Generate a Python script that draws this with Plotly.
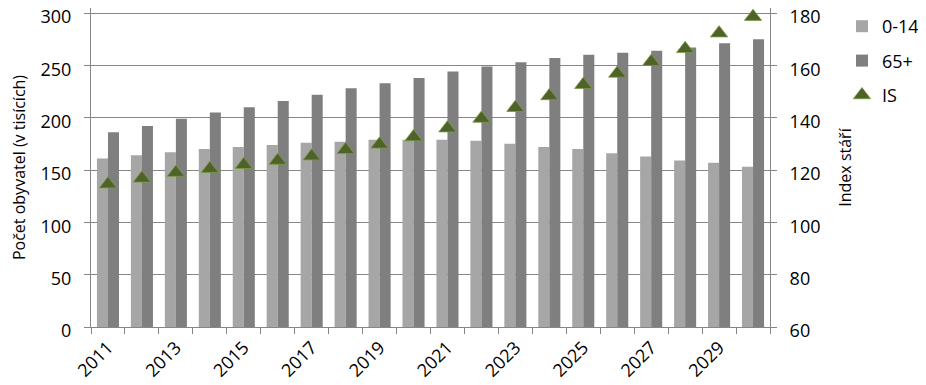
import plotly.graph_objects as go

years = [str(y) for y in range(2011, 2031)]
tick_labels = [y if (int(y) - 2011) % 2 == 0 else "" for y in years]
age_0_14 = [161, 164, 167, 170, 172, 174, 176, 177, 179, 179, 179, 178, 175, 172, 170, 166, 163, 159, 157, 153]
age_65 = [186, 192, 199, 205, 210, 216, 222, 228, 233, 238, 244, 249, 253, 257, 260, 262, 264, 267, 271, 275]
index_stari = [114.6, 116.8, 119.0, 120.5, 122.0, 123.6, 125.3, 127.7, 129.8, 132.6, 136.0, 139.7, 143.8, 148.3, 152.6, 156.9, 161.4, 166.3, 172.3, 178.6]
left_ticks = [0, 50, 100, 150, 200, 250, 300]
right_ticks = [60, 80, 100, 120, 140, 160, 180]

FONT = "Open Sans"
GRID = "#868686"

fig = go.Figure()
fig.add_trace(go.Bar(x=years, y=age_0_14, name="0-14", marker_color="#a6a6a6",
                     marker_line_width=0, legendgroup="a"))
fig.add_trace(go.Bar(x=years, y=age_65, name="65+", marker_color="#7f7f7f",
                     marker_line_width=0, legendgroup="b"))
fig.add_trace(go.Scatter(x=years, y=index_stari, name="IS", mode="markers", yaxis="y2",
                         cliponaxis=False,
                         marker=dict(symbol="triangle-up", size=15, color="#4f6228",
                                     line=dict(color="#7a9a45", width=0.8)),
                         legendgroup="c"))

fig.update_layout(
    width=918, height=377,
    margin=dict(l=83, r=156, t=0, b=58),
    paper_bgcolor="white", plot_bgcolor="white",
    font=dict(family=FONT, size=18, color="black"),
    barmode="group", bargap=0.35, bargroupgap=0,
    showlegend=True,
    legend=dict(x=1.106, xanchor="left", y=1.0, yanchor="top",
                tracegroupgap=8, font=dict(size=18), bgcolor="rgba(0,0,0,0)"),
    xaxis=dict(type="category", tickmode="array", tickvals=years, ticktext=tick_labels,
               range=[-0.5, 19.5],
               tickson="boundaries", ticks="outside", ticklen=6, tickcolor=GRID,
               showline=True, linecolor=GRID, linewidth=1, tickangle=-45,
               ticklabelstandoff=2, showgrid=False, automargin=False),
    yaxis=dict(range=[0, 304.78], tickvals=left_ticks, ticklabeloverflow="allow",
               ticklabelshift=4,
               showgrid=True, gridcolor=GRID, gridwidth=1,
               ticks="outside", ticklen=6, tickcolor=GRID, showline=True, linecolor=GRID,
               ticklabelstandoff=9, zeroline=False, automargin=False,
               title=dict(text="Počet obyvatel (v tisících)", standoff=13, font=dict(size=16))),
    yaxis2=dict(range=[60, 181.91], tickvals=right_ticks, ticklabeloverflow="allow",
                ticklabelshift=4,
                overlaying="y", side="right", showgrid=False,
                ticks="outside", ticklen=6, tickcolor=GRID, showline=True, linecolor=GRID,
                ticklabelstandoff=9, zeroline=False, automargin=False,
                title=dict(text="Index stáří", standoff=20, font=dict(size=16))),
)

fig.write_html("out.html")
